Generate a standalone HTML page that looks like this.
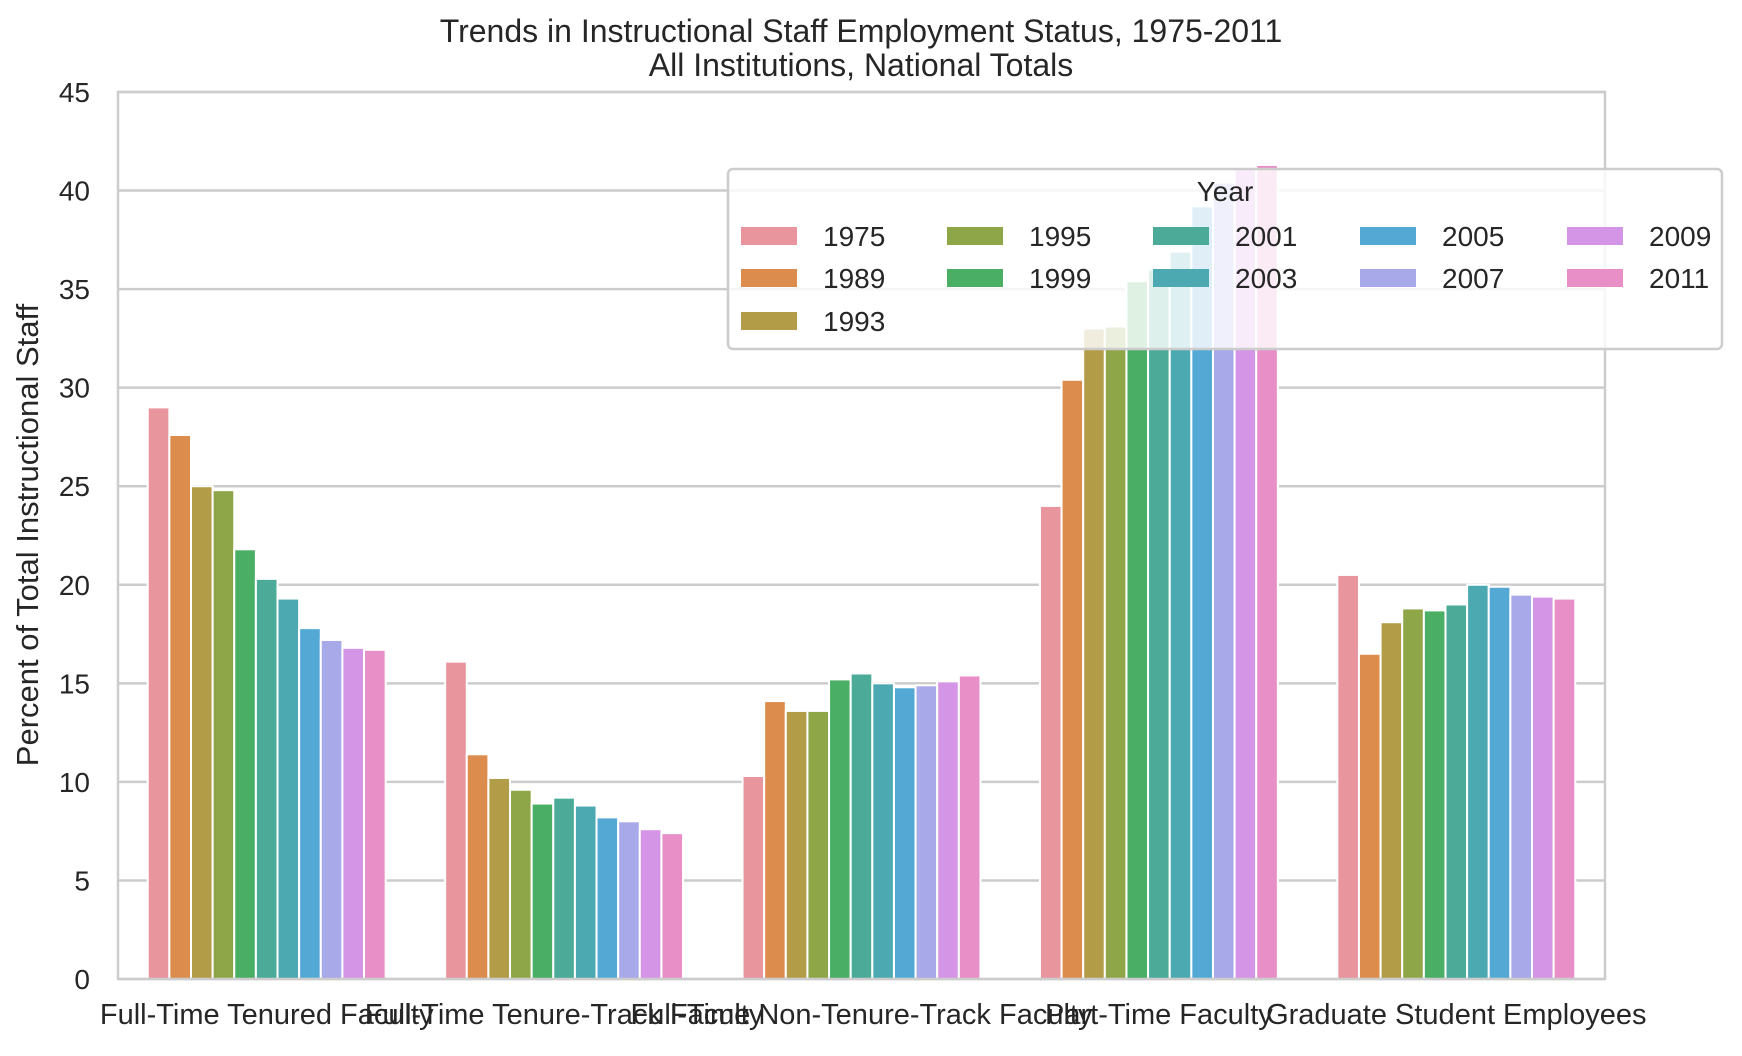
<!DOCTYPE html>
<html><head><meta charset="utf-8"><style>
body{margin:0;background:#fff;}
svg text{font-family:"Liberation Sans",Arial,sans-serif;fill:#262626;}
</style></head><body>
<svg id="chart" width="1742" height="1051" xmlns="http://www.w3.org/2000/svg">
<rect width="1742" height="1051" fill="#fff"/>
<text x="861" y="42" font-size="32" text-anchor="middle">Trends in Instructional Staff Employment Status, 1975-2011</text>
<text x="861" y="76" font-size="32" text-anchor="middle">All Institutions, National Totals</text>
<text transform="translate(38,535) rotate(-90)" font-size="31" text-anchor="middle">Percent of Total Instructional Staff</text>
<g id="grid"></g><g id="bars"></g><g id="axes"></g><g id="legend"></g>
</svg>
<script>
const categories = ["Full-Time Tenured Faculty","Full-Time Tenure-Track Faculty","Full-Time Non-Tenure-Track Faculty","Part-Time Faculty","Graduate Student Employees"];
const years = ["1975","1989","1993","1995","1999","2001","2003","2005","2007","2009","2011"];
const tenured = [29.0,27.6,25.0,24.8,21.8,20.3,19.3,17.8,17.2,16.8,16.7];
const tenureTrack = [16.1,11.4,10.2,9.6,8.9,9.2,8.8,8.2,8.0,7.6,7.4];
const nonTenureTrack = [10.3,14.1,13.6,13.6,15.2,15.5,15.0,14.8,14.9,15.1,15.4];
const partTime = [24.0,30.4,33.0,33.1,35.4,36.0,36.9,39.2,40.4,41.1,41.3];
const gradStudents = [20.5,16.5,18.1,18.8,18.7,19.0,20.0,19.9,19.5,19.4,19.3];
const yTicks = [0,5,10,15,20,25,30,35,40,45];
const colors = ["#e8959e","#dc8d4d","#b39c47","#8ea548","#4aaf65","#4bab98","#4ca9b2","#53a8d4","#a8a9e9","#d595e6","#e88fc8"];
const series = [tenured,tenureTrack,nonTenureTrack,partTime,gradStudents];
const NS="http://www.w3.org/2000/svg";
const L=118,R=1605,T=92,B=979,YMAX=45;
const y=v=>B-(v/YMAX)*(B-T);
const catW=(R-L)/categories.length;
const x=i=>L+catW*(i+0.5);
const bw=catW*0.8/years.length;
function mk(tag,attrs,parent){const e=document.createElementNS(NS,tag);for(const k in attrs)e.setAttribute(k,attrs[k]);parent.appendChild(e);return e;}
const grid=document.getElementById('grid'),bars=document.getElementById('bars'),axes=document.getElementById('axes'),leg=document.getElementById('legend');
yTicks.forEach(t=>{
  const g=mk('line',{x1:L,x2:R,y1:y(t),y2:y(t),stroke:'#cccccc','stroke-width':2.5},grid);
  
  
  const tx=mk('text',{x:L-28,y:y(t)+10,'font-size':28,'text-anchor':'end'},axes);
  tx.textContent=t;
  
  
});
categories.forEach((c,ci)=>{
  years.forEach((yr,hi)=>{
    const v=series[ci][hi];
    const cx=x(ci)-catW*0.4+bw*(hi+0.5);
    const r=mk('rect',{x:cx-bw/2,y:y(v),width:bw,height:y(0)-y(v),fill:colors[hi],stroke:'#fff','stroke-width':2},bars);
    
    
  });
  const tx=mk('text',{x:x(ci),y:1024,'font-size':29,'text-anchor':'middle'},axes);
  tx.textContent=c;
  
  
});
const sp=mk('rect',{x:L,y:T,width:R-L,height:B-T,fill:'none',stroke:'#cccccc','stroke-width':2.5},axes);


const lb=mk('rect',{x:728,y:169,width:994,height:180,rx:5,fill:'#fff','fill-opacity':0.82,stroke:'#cccccc','stroke-width':2.5},leg);


const lt=mk('text',{x:1225,y:201,'font-size':28,'text-anchor':'middle'},leg);
lt.textContent='Year';


const colX=[741,947,1153,1360,1567],rowY=[236,278,321];
const perCol=[3,2,2,2,2];
let idx=0;
perCol.forEach((n,c)=>{for(let r=0;r<n;r++){const i=idx++;
  const h=mk('rect',{x:colX[c],y:rowY[r]-9,width:56,height:18,fill:colors[i]},leg);
  
  
  const t=mk('text',{x:colX[c]+82,y:rowY[r]+10,'font-size':28},leg);
  t.textContent=years[i];
  
  
}});
</script>
</body></html>
